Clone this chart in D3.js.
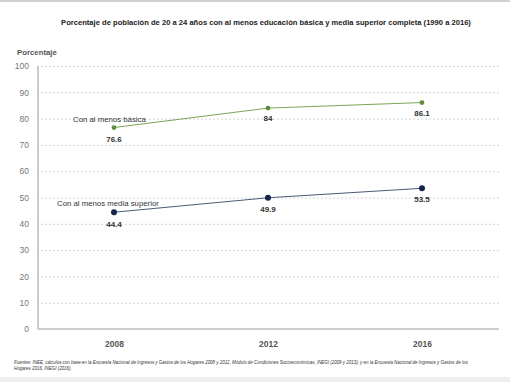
<!DOCTYPE html>
<html><head><meta charset="utf-8">
<script src="https://cdn.jsdelivr.net/npm/d3@7"></script>
<style>body{margin:0;background:#fff;}svg{display:block;font-family:"Liberation Sans",Arial,sans-serif;}</style>
</head><body>
<script>
const years = ["2008","2012","2016"];
const basica = [76.6, 84, 86.1];
const mediaSuperior = [44.4, 49.9, 53.5];
const yTicks = [0,10,20,30,40,50,60,70,80,90,100];
const seriesNames = ["Con al menos básica","Con al menos media superior"];

const W=510,H=382;
const svg=d3.select("body").append("svg").attr("width",W).attr("height",H);
svg.append("rect").attr("x",0).attr("y",0).attr("width",W).attr("height",2).attr("fill","#d0d0d0");
svg.append("rect").attr("x",0).attr("y",377).attr("width",W).attr("height",5).attr("fill","#efefef");

const x=d3.scalePoint().domain(years).range([37,499]).padding(0.5);
const y=d3.scaleLinear().domain([0,100]).range([329,66]);

svg.append("text").attr("x",266).attr("y",25).attr("text-anchor","middle")
 .attr("font-size",7.6).attr("font-weight","bold").attr("fill","#222")
 .text("Porcentaje de población de 20 a 24 años con al menos educación básica y media superior completa (1990 a 2016)");
svg.append("text").attr("x",17).attr("y",55).attr("font-size",7.8).attr("font-weight","bold").attr("fill","#555").text("Porcentaje");

// grid
const gy=svg.append("g").attr("transform","translate(37,0)")
 .call(d3.axisLeft(y).tickValues(yTicks).tickSize(-462).tickFormat(d3.format("d")).tickPadding(8));
gy.select(".domain").remove();
gy.selectAll(".tick line").attr("stroke","#c8c8c8").attr("stroke-dasharray","2,2").attr("stroke-width",0.8)
 .filter(d=>d===0).remove();
gy.selectAll(".tick text").attr("font-size",8.5).attr("fill","#777").attr("font-family","Liberation Sans, Arial, sans-serif");
svg.append("line").attr("x1",38).attr("x2",38).attr("y1",66).attr("y2",329).attr("stroke","#bdbdbd").attr("stroke-width",1.5);
svg.append("line").attr("x1",38).attr("x2",499).attr("y1",329).attr("y2",329).attr("stroke","#bdbdbd").attr("stroke-width",1.5);

const gx=svg.append("g").attr("transform","translate(0,329)").call(d3.axisBottom(x).tickSize(0).tickPadding(12));
gx.select(".domain").remove();
gx.selectAll("text").attr("font-size",8.5).attr("font-weight","bold").attr("fill","#555").attr("font-family","Liberation Sans, Arial, sans-serif");

const series=[
 {name:seriesNames[0],vals:basica,line:"#7aa556",dot:"#5f8c3c",r:2.4,labDy:[11,10,10],nameX:73,nameY:122},
 {name:seriesNames[1],vals:mediaSuperior,line:"#4a5a78",dot:"#14224d",r:3,labDy:[12,11,11],nameX:57,nameY:206}
];
series.forEach(s=>{
 const pts=years.map((yr,i)=>[x(yr),y(s.vals[i])]);
 svg.append("path").attr("d",d3.line()(pts)).attr("fill","none").attr("stroke",s.line).attr("stroke-width",1);
 svg.selectAll(null).data(pts).enter().append("circle").attr("cx",d=>d[0]).attr("cy",d=>d[1]).attr("r",s.r).attr("fill",s.dot);
 svg.selectAll(null).data(pts).enter().append("text").attr("x",d=>d[0]).attr("y",(d,i)=>d[1]+s.labDy[i]+3)
  .attr("text-anchor","middle").attr("font-size",8).attr("font-weight","bold").attr("fill","#333")
  .text((d,i)=>s.vals[i]);
 svg.append("text").attr("x",s.nameX).attr("y",s.nameY).attr("font-size",7.8).attr("fill","#333").text(s.name);
});

svg.append("text").attr("x",14).attr("y",364).attr("font-size",4.45).attr("font-style","italic").attr("fill","#333")
 .text("Fuentes: INEE, cálculos con base en la Encuesta Nacional de Ingresos y Gastos de los Hogares 2008 y 2012, Módulo de Condiciones Socioeconómicas, INEGI (2009 y 2013); y en la Encuesta Nacional de Ingresos y Gastos de los");
svg.append("text").attr("x",14).attr("y",369.5).attr("font-size",4.45).attr("font-style","italic").attr("fill","#333")
 .text("Hogares 2016, INEGI (2016).");
</script>
</body></html>
